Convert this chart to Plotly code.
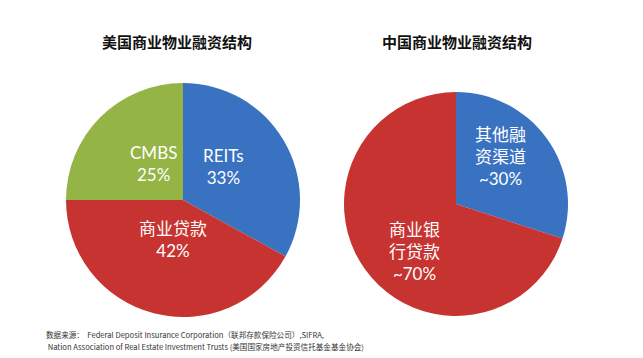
import plotly.graph_objects as go

# ---- data ----
us_title = "美国商业物业融资结构"
us_labels = ["REITs", "商业贷款", "CMBS"]
us_values = [33, 42, 25]
us_text = ["REITs<br>33%", "商业贷款<br>42%", "CMBS<br>25%"]

cn_title = "中国商业物业融资结构"
cn_labels = ["其他融资渠道", "商业银行贷款"]
cn_values = [30, 70]
cn_text = ["其他融<br>资渠道<br>~30%", "商业银<br>行贷款<br>~70%"]

source_lines = [
    "数据来源：  Federal Deposit Insurance Corporation（联邦存款保险公司）,SIFRA,",
    " Nation Association of Real Estate Investment Trusts (美国国家房地产投资信托基金基金协会)",
]

# ---- styling ----
OFF = 8  # page body margin
W, H = 643 - OFF, 358 - OFF
BLUE = "#3a72c2"
RED = "#c73330"
GREEN = "#94b545"
FONT = "Lato, 'Noto Sans CJK SC', sans-serif"

def fx(x):
    return (x - OFF) / W

def fy(y):
    return 1 - (y - OFF) / H

def px_dom(x0, x1, y0, y1):
    return dict(x=[fx(x0), fx(x1)], y=[fy(y1), fy(y0)])

fig = go.Figure()
fig.add_trace(go.Pie(
    labels=us_labels, values=us_values, sort=False, direction="clockwise",
    rotation=0, textinfo="none", hoverinfo="label+percent",
    marker=dict(colors=[BLUE, RED, GREEN], line=dict(width=0)),
    domain=px_dom(66, 300, 83, 317), showlegend=False,
))
fig.add_trace(go.Pie(
    labels=cn_labels, values=cn_values, sort=False, direction="clockwise",
    rotation=0, textinfo="none", hoverinfo="label+percent",
    marker=dict(colors=[BLUE, RED], line=dict(width=0)),
    domain=px_dom(344, 568, 92, 316), showlegend=False,
))

annotations = []
for t, x in [(us_title, 177), (cn_title, 457)]:
    annotations.append(dict(text="<b>%s</b>" % t, x=fx(x), y=fy(41),
                            xref="paper", yref="paper", showarrow=False,
                            xanchor="center", yanchor="middle",
                            font=dict(family="'Noto Sans CJK SC', sans-serif",
                                      size=15, color="#111111")))

label_pos_us = [(223, 166), (173, 240), (153, 163)]
label_pos_cn = [(500, 156), (415, 251)]
for t, (x, y) in list(zip(us_text, label_pos_us)) + list(zip(cn_text, label_pos_cn)):
    annotations.append(dict(text=t, x=fx(x), y=fy(y), xref="paper", yref="paper",
                            showarrow=False, xanchor="center", yanchor="middle",
                            font=dict(family=FONT, size=17, color="white")))

for i, line in enumerate(source_lines):
    annotations.append(dict(text=line, x=fx(44), y=fy(334 + i * 12),
                            xref="paper", yref="paper", showarrow=False,
                            xanchor="left", yanchor="middle",
                            font=dict(family="'Noto Sans CJK SC', sans-serif",
                                      size=7.6, color="#333333")))

fig.update_layout(
    width=W, height=H, margin=dict(l=0, r=0, t=0, b=0),
    paper_bgcolor="white", plot_bgcolor="white",
    annotations=annotations,
)
fig.write_html("out.html")
